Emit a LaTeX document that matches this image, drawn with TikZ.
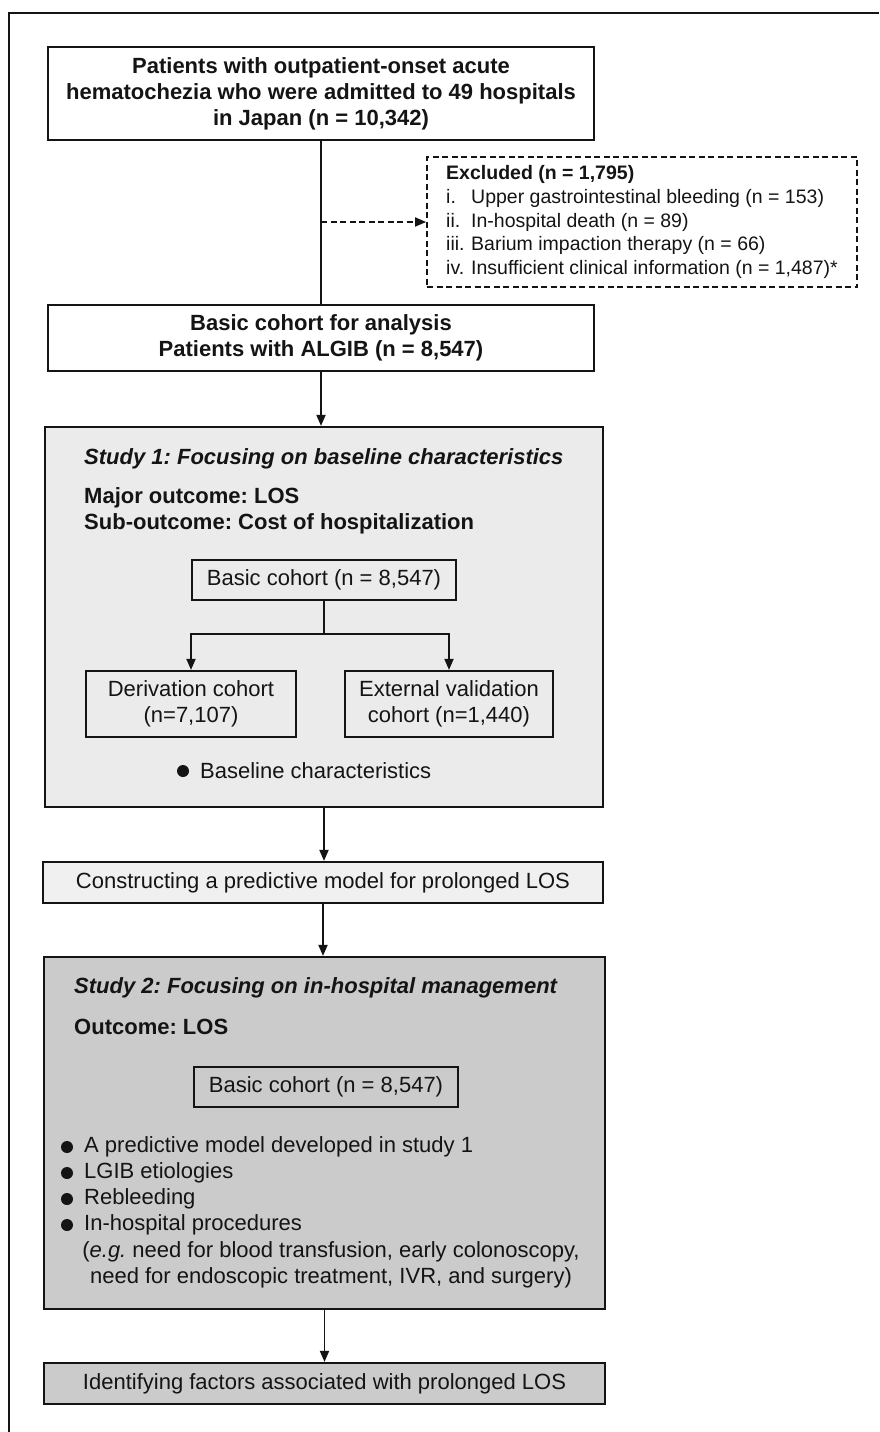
\documentclass[tikz,border=0pt]{standalone}
\usepackage{fontspec}
\setmainfont{Liberation Sans}
\usetikzlibrary{arrows.meta,positioning}
\definecolor{flowInk}{HTML}{141414}
\definecolor{flowLight}{HTML}{EBEBEB}
\definecolor{flowPale}{HTML}{F0F0F0}
\definecolor{flowMid}{HTML}{CBCBCB}
\newcommand{\flowfont}{\fontsize{22}{26}\selectfont\frenchspacing}
\newcommand{\notefont}{\fontsize{19.5}{23.6}\selectfont\frenchspacing}

\begin{document}
\begin{tikzpicture}[x=1pt,y=-1pt,>={Triangle[length=11pt,width=9pt]},line join=miter]
\useasboundingbox (0,0) rectangle (879,1432);
\path[fill=white] (0,0) rectangle (879,1432);
\tikzset{txt/.style={font=\flowfont,text=flowInk,inner sep=0pt},box/.style={txt,draw=flowInk,line width=2.2pt,align=center},boldbox/.style={box,font=\flowfont\bfseries},link/.style={draw=flowInk,line width=1.8pt},dotmark/.style={fill=flowInk}}
% frame
\draw[flowInk,line width=1.2pt] (9,1432) -- (9,13) -- (879,13);
% top of the flow
\node[boldbox,minimum width=546pt,minimum height=93pt] (admit) at (321,93.5) {Patients with outpatient-onset acute\\hematochezia who were admitted to 49 hospitals\\in Japan (n = 10,342)};
\node[txt,font=\notefont,draw=flowInk,line width=1.8pt,dash pattern=on 6pt off 3.5pt,align=left,minimum width=430pt,minimum height=130pt] (excl) at (642,222) {\textbf{Excluded (n = 1,795)}\\\makebox[25pt][l]{i.}Upper gastrointestinal bleeding (n = 153)\\\makebox[25pt][l]{ii.}In-hospital death (n = 89)\\\makebox[25pt][l]{iii.}Barium impaction therapy (n = 66)\\\makebox[25pt][l]{iv.}Insufficient clinical information (n = 1,487)*};
\node[boldbox,minimum width=546pt,minimum height=66pt] (basic) at (321,338) {Basic cohort for analysis\\Patients with ALGIB (n = 8,547)};
\draw[link] (admit.south) -- (basic.north);
\draw[link,dash pattern=on 6pt off 3.5pt,->] (admit.south |- excl.west) -- (excl.west);
% study 1
\node[box,fill=flowLight,minimum width=558pt,minimum height=380pt] (study1) at (324,617) {};
\draw[link,->] (basic.south) -- (basic.south |- study1.north);
\node[txt,anchor=west,font=\flowfont\bfseries\itshape] (title1) at (84,459) {Study 1: Focusing on baseline characteristics};
\node[txt,anchor=west,font=\flowfont\bfseries] (major1) at (84,498) {Major outcome: LOS};
\node[txt,anchor=west,font=\flowfont\bfseries] (sub1) at (84,524) {Sub-outcome: Cost of hospitalization};
\node[box,minimum width=264pt,minimum height=40pt] (cohort1) at (324,580) {Basic cohort (n = 8,547)};
\coordinate (fork1) at (324,634);
\node[box,minimum width=210pt,minimum height=66pt] (deriv) at (191,704) {Derivation cohort\\(n=7,107)};
\node[box,minimum width=208pt,minimum height=66pt] (extval) at (449,704) {External validation\\cohort (n=1,440)};
\draw[link] (cohort1.south) -- (fork1);
\draw[link,->] (fork1) -| (deriv.north);
\draw[link,->] (fork1) -| (extval.north);
\fill[dotmark] (183,771) circle (6pt);
\node[txt,anchor=west] (base1) at (200,771) {Baseline characteristics};
% model step
\node[box,fill=flowPale,minimum width=560pt,minimum height=41pt] (build) at (323,882.5) {Constructing a predictive model for prolonged LOS};
\draw[link,->] (study1.south) -- (study1.south |- build.north);
% study 2
\node[box,fill=flowMid,minimum width=561pt,minimum height=352pt] (study2) at (324.5,1133) {};
\draw[link,->] (build.south) -- (build.south |- study2.north);
\node[txt,anchor=west,font=\flowfont\bfseries\itshape] (title2) at (74,988) {Study 2: Focusing on in-hospital management};
\node[txt,anchor=west,font=\flowfont\bfseries] (outc2) at (74,1027) {Outcome: LOS};
\node[box,minimum width=264pt,minimum height=40pt] (cohort2) at (326,1087) {Basic cohort (n = 8,547)};
\foreach \yy/\lbl in {1147/A predictive model developed in study 1,1173/LGIB etiologies,1199/Rebleeding,1225/In-hospital procedures}{
  \fill[dotmark] (67,\yy) circle (6pt);
  \node[txt,anchor=west] at (84,\yy) {\lbl};
}
\node[txt,align=center] (eg2) at (331,1264.5) {(\textit{e.g.} need for blood transfusion, early colonoscopy,\\need for endoscopic treatment, IVR, and surgery)};
\node[box,fill=flowMid,minimum width=561pt,minimum height=41pt] (ident) at (324.5,1383.5) {Identifying factors associated with prolonged LOS};
\draw[link,->] (study2.south) -- (study2.south |- ident.north);
\end{tikzpicture}
\end{document}
